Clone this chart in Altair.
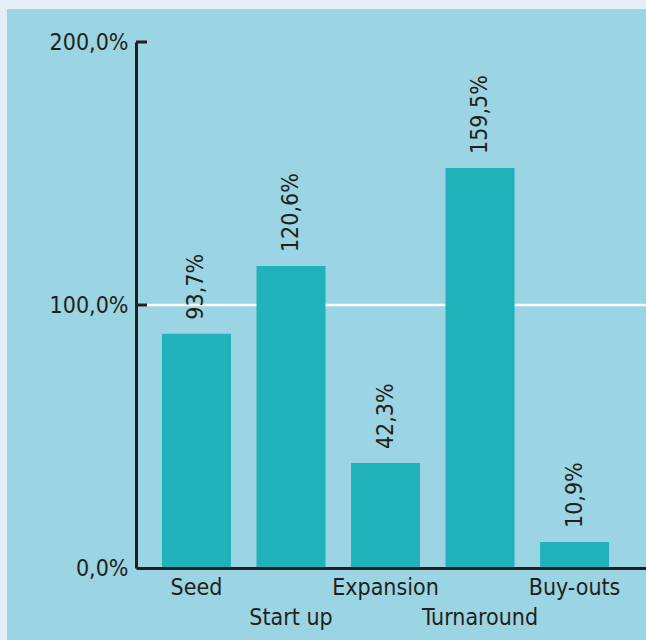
import altair as alt
import pandas as pd

categories = ["Seed", "Start up", "Expansion", "Turnaround", "Buy-outs"]
bar_values = [89.1, 114.8, 39.9, 152.1, 9.9]
label_texts = ["93,7%", "120,6%", "42,3%", "159,5%", "10,9%"]
y_ticks = [0, 100, 200]

FONT = "Liberation Sans Narrow, DejaVu Sans Condensed, Roboto, sans-serif"
TXT = "#231f20"
W, H = 510, 526

df = pd.DataFrame({"cat": categories, "val": bar_values, "lab": label_texts})
ticks_df = pd.DataFrame({"t": y_ticks[1:]})

xscale = alt.Scale(domain=categories, paddingInner=0.27, paddingOuter=0.333, align=0.413)
yscale = alt.Scale(domain=[0, 200], nice=False)

panel = alt.Chart(pd.DataFrame({"a": [0]})).mark_rect(color="#9bd4e2", clip=False).encode(
    x=alt.value(-129), x2=alt.value(W), y=alt.value(-33), y2=alt.value(H + 80)
)

grid = alt.Chart(pd.DataFrame({"g": [100]})).mark_rule(color="white", strokeWidth=2.5, opacity=0.95).encode(
    y=alt.Y("g:Q", scale=yscale), x=alt.value(0), x2=alt.value(W)
)

bars = alt.Chart(df).mark_bar(color="#1fb2ba").encode(
    x=alt.X("cat:N", scale=xscale, sort=categories, title=None,
            axis=alt.Axis(domainColor=TXT, domainWidth=3, ticks=False, labelAngle=0, zindex=2,
                          labelFont=FONT, labelFontSize=23, labelColor=TXT,
                          labelPadding=8, labelBaseline="top", labelLineHeight=30,
                          labelExpr="indexof(['Start up','Turnaround'], datum.value) >= 0 ? ['', datum.value] : datum.value")),
    y=alt.Y("val:Q", scale=yscale, title=None,
            axis=alt.Axis(values=y_ticks, domainColor=TXT, domainWidth=3, ticks=False, grid=False, zindex=2,
                          labelFont=FONT, labelFontSize=23, labelColor=TXT, labelPadding=8,
                          labelExpr="replace(format(datum.value, '.1f'), '.', ',') + '%'")),
)

labels = alt.Chart(df).mark_text(angle=270, align="left", baseline="middle", dx=14,
                                 font=FONT, fontSize=23, color=TXT).encode(
    x=alt.X("cat:N", scale=xscale, sort=categories),
    y=alt.Y("val:Q", scale=yscale),
    text="lab:N",
)

tickmarks = alt.Chart(ticks_df).mark_rule(color=TXT, strokeWidth=3).encode(
    y=alt.Y("t:Q", scale=yscale), x=alt.value(0), x2=alt.value(11)
)

chart = alt.layer(panel, grid, bars, labels, tickmarks).properties(
    width=W, height=H,
    autosize=alt.AutoSizeParams(type="none"),
    padding={"left": 136, "top": 42, "right": 0, "bottom": 72},
    background="#e3eff5",
).configure_view(strokeWidth=0)

chart.save("out.html", embed_options={"renderer": "svg", "actions": False})
